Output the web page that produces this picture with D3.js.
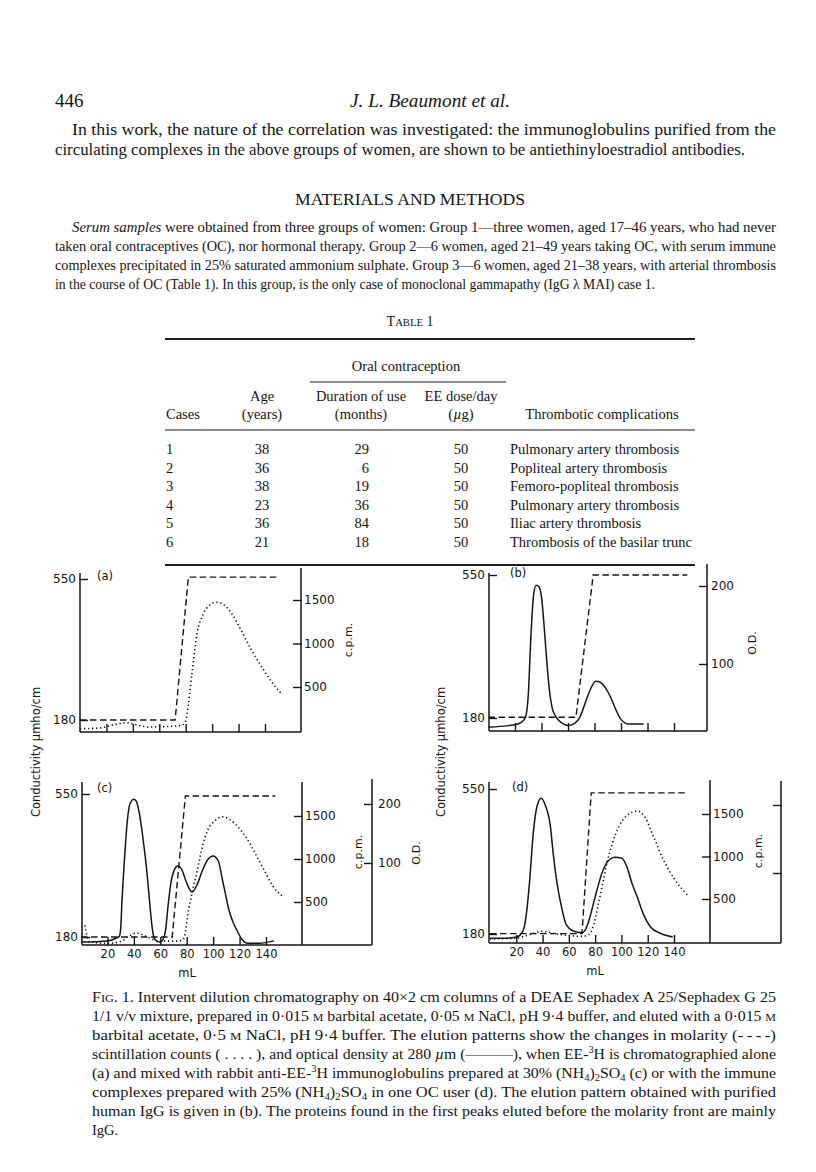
<!DOCTYPE html>
<html>
<head>
<meta charset="utf-8">
<script src="https://cdn.jsdelivr.net/npm/d3@7"></script>
<style>
  body { margin: 0; background: #fff; }
  svg text { fill: #161616; white-space: pre; }
  .serif { font-family: "Liberation Serif", "Times New Roman", serif; }
  .sans { font-family: "DejaVu Sans", sans-serif; }
</style>
</head>
<body>
<svg id="page" width="816" height="1172"></svg>
<script>
// ---------------- chart data (mL, value) ----------------
const xTicks = [20, 40, 60, 80, 100, 120, 140];
const condTicks = [180, 550];
const cpmTicks = [500, 1000, 1500];
const odTicks = [100, 200];

// (a) EE-3H alone
const aMolarity = [[0, 180], [72, 180], [82, 555], [149, 555]];
const aCpm = [[0, 20], [15, 30], [27, 70], [35, 90], [44, 60], [53, 40], [65, 45], [77, 60], [80, 110], [82, 300],
  [85, 690], [88.5, 1110], [93, 1330], [98, 1440], [103, 1475], [108, 1455], [115, 1340], [122, 1150], [130, 920],
  [138, 720], [145, 560], [153, 410]];

// (b) purified human IgG
const bMolarity = [[0, 182], [66, 182], [79, 550], [150, 550]];
const bOD = [[0, 19], [15, 21], [22, 23], [26, 27], [28, 32], [30, 60], [32, 135], [34, 188], [36, 201], [38, 199],
  [40, 186], [42, 148], [44, 103], [46, 66], [48, 44], [51, 32], [55, 25], [60, 21], [65, 24], [69, 32], [73, 50],
  [77, 68], [81, 78], [84, 77], [88, 70], [92, 58], [96, 42], [100, 29], [106, 23], [117, 23]];

// (c) with rabbit anti-EE-3H immunoglobulins
const cMolarity = [[0, 180], [69, 180], [79, 545], [147, 545]];
const cCpm = [[3, 230], [6, 40], [20, 20], [30, 40], [36, 100], [42, 140], [48, 110], [55, 60], [62, 45], [72, 45],
  [77, 60], [79, 150], [81, 370], [84, 600], [88, 870], [92, 1150], [96, 1340], [101, 1440], [107, 1490], [113, 1455],
  [119, 1370], [125, 1250], [132, 1060], [139, 860], [145, 690], [153, 560]];
const cOD = [[0, -34], [20, -32], [26, -28], [29, -24], [30, -12], [31, 35], [32, 75], [33, 110], [35, 170], [37, 200],
  [40, 208], [42, 204], [44, 186], [47, 140], [50, 82], [52, 32], [54, -12], [56, -30], [60, -34], [62, -30], [64, -14],
  [66, 30], [68, 66], [71, 90], [73, 95], [76, 90], [80, 66], [84, 51], [88, 64], [92, 88], [96, 106], [100, 112],
  [104, 103], [107, 72], [110, 40], [112, 20], [115, 0], [118, -14], [122, -30], [126, -36], [135, -36], [146, -32]];

// (d) immune complexes from one OC user
const dMolarity = [[0, 181], [70, 181], [77, 540], [150, 540]];
const dCpm = [[0, 30], [20, 40], [30, 80], [40, 120], [50, 90], [60, 70], [70, 60], [75, 80], [79, 200], [82, 410],
  [86, 700], [89, 925], [93, 1150], [98, 1350], [104, 1480], [112, 1535], [118, 1460], [124, 1250], [132, 960],
  [141, 720], [150, 550]];
const dOD = [[0, 4], [10, 4], [20, 6], [23, 9], [26, 20], [28, 45], [30, 85], [33, 160], [36, 200], [39, 210], [42, 200],
  [46, 168], [48, 130], [51, 85], [55, 45], [58, 24], [63, 15], [70, 12], [73, 18], [76, 35], [80, 65], [86, 104],
  [90, 118], [95, 123], [100, 122], [104, 110], [108, 85], [112, 65], [117, 38], [122, 21], [130, 11], [139, 6]];

// ---------------- table data ----------------
const tableHeadTop = ['Age', 'Duration of use', 'EE dose/day'];
const tableHeadBottom = ['Cases', '(years)', '(months)', '(µg)', 'Thrombotic complications'];
const tableRows = [
  ['1', '38', '29', '50', 'Pulmonary artery thrombosis'],
  ['2', '36', '6', '50', 'Popliteal artery thrombosis'],
  ['3', '38', '19', '50', 'Femoro-popliteal thrombosis'],
  ['4', '23', '36', '50', 'Pulmonary artery thrombosis'],
  ['5', '36', '84', '50', 'Iliac artery thrombosis'],
  ['6', '21', '18', '50', 'Thrombosis of the basilar trunc']
];

// ---------------- running text ----------------
const introLines = [
  ['In this work, the nature of the correlation was investigated: the immunoglobulins purified from the'],
  ['circulating complexes in the above groups of women, are shown to be antiethinyloestradiol antibodies.']
];
const methodsLines = [
  [['Serum samples', 'i'], ' were obtained from three groups of women: Group 1—three women, aged 17–46 years, who had never'],
  ['taken oral contraceptives (OC), nor hormonal therapy. Group 2—6 women, aged 21–49 years taking OC, with serum immune'],
  ['complexes precipitated in 25% saturated ammonium sulphate. Group 3—6 women, aged 21–38 years, with arterial thrombosis'],
  ['in the course of OC (Table 1). In this group, is the only case of monoclonal gammapathy (IgG λ MAI) case 1.']
];
const captionLines = [
  ['F', ['IG', 'sc'], '. 1. Intervent dilution chromatography on 40×2 cm columns of a DEAE Sephadex A 25/Sephadex G 25'],
  ['1/1 v/v mixture, prepared in 0·015 ', ['M', 'sc'], ' barbital acetate, 0·05 ', ['M', 'sc'], ' NaCl, pH 9·4 buffer, and eluted with a 0·015 ', ['M', 'sc']],
  ['barbital acetate, 0·5 ', ['M', 'sc'], ' NaCl, pH 9·4 buffer. The elution patterns show the changes in molarity (-\u2009-\u2009-\u2009-)'],
  ['scintillation counts ( . . . . ), and optical density at 280 ', ['µ', 'i'], 'm (———), when EE-', ['3', 'sup'], 'H is chromatographied alone'],
  ['(a) and mixed with rabbit anti-EE-', ['3', 'sup'], 'H immunoglobulins prepared at 30% (NH', ['4', 'sub'], ')', ['2', 'sub'], 'SO', ['4', 'sub'], ' (c) or with the immune'],
  ['complexes prepared with 25% (NH', ['4', 'sub'], ')', ['2', 'sub'], 'SO', ['4', 'sub'], ' in one OC user (d). The elution pattern obtained with purified'],
  ['human IgG is given in (b). The proteins found in the first peaks eluted before the molarity front are mainly'],
  ['IgG.']
];

const svg = d3.select('#page');
svg.append('rect').attr('width', 816).attr('height', 1172).attr('fill', '#fff');

// write one line of serif text, parts can be italic / small caps / sup / sub
function writeLine(x, y, parts, size, width, anchor) {
  const t = svg.append('text').attr('class', 'serif')
    .attr('x', x).attr('y', y).attr('font-size', size)
    .attr('text-anchor', anchor || 'start');
  let shift = 0;
  parts.forEach(p => {
    const [s, k] = Array.isArray(p) ? p : [p, ''];
    const want = k === 'sup' ? -size * 0.38 : k === 'sub' ? size * 0.22 : 0;
    const ts = t.append('tspan').text(s);
    if (want !== shift) { ts.attr('dy', want - shift); shift = want; }
    if (k === 'i') ts.attr('font-style', 'italic');
    if (k === 'sc') ts.attr('font-size', size * 0.76);
    if (k === 'sup' || k === 'sub') ts.attr('font-size', size * 0.66);
  });
  if (width) t.attr('textLength', width).attr('lengthAdjust', 'spacingAndGlyphs');
  return t;
}

// ---- page header ----
writeLine(55, 107, ['446'], 19);
writeLine(350, 107, [['J. L. Beaumont et al.', 'i']], 19, 160);

introLines.forEach((l, i) => {
  const x = i === 0 ? 72 : 55;
  writeLine(x, 135 + i * 19.5, l, 16, (i === 0 ? 776 : 745) - x);
});

writeLine(295, 205, ['MATERIALS AND METHODS'], 16, 230);

methodsLines.forEach((l, i) => {
  const x = i === 0 ? 72 : 55;
  const end = i === 3 ? 655 : 776;
  writeLine(x, 232 + i * 19, l, 14, end - x);
});

// ---- table ----
writeLine(410, 326, ['T', ['ABLE', 'sc'], ' 1'], 14, null, 'middle');
const rule = (x1, x2, y, w) => svg.append('line').attr('x1', x1).attr('x2', x2).attr('y1', y).attr('y2', y)
  .attr('stroke', '#1c1c1c').attr('stroke-width', w);
rule(165, 695, 339, 1.8);
writeLine(406, 371, ['Oral contraception'], 14.5, null, 'middle');
rule(310, 506, 382, 1);
const headX = [262, 361, 461];
tableHeadTop.forEach((h, i) => writeLine(headX[i], 401, [h], 14.5, null, 'middle'));
writeLine(166, 419, [tableHeadBottom[0]], 14.5);
writeLine(262, 419, [tableHeadBottom[1]], 14.5, null, 'middle');
writeLine(361, 419, [tableHeadBottom[2]], 14.5, null, 'middle');
writeLine(461, 419, ['(', ['µ', 'i'], 'g)'], 14.5, null, 'middle');
writeLine(602, 419, [tableHeadBottom[4]], 14.5, null, 'middle');
rule(165, 695, 430, 1.2);
tableRows.forEach((r, i) => {
  const y = 454 + i * 18.5;
  writeLine(166, y, [r[0]], 14.5);
  writeLine(262, y, [r[1]], 14.5, null, 'middle');
  writeLine(369, y, [r[2]], 14.5, null, 'end');
  writeLine(461, y, [r[3]], 14.5, null, 'middle');
  writeLine(510, y, [r[4]], 14.5);
});
rule(165, 695, 565, 1.8);

// ---- figure panels ----
const panels = [
  { tag: '(a)', mol: aMolarity, cpm: aCpm, od: null, xLabels: false,
    x: [80, 265], left: 80, top: 573, bottom: 732, cond: [720, 579], tagPos: [97, 580],
    cpmAxis: { x: 301, top: 568, range: [730.5, 600], label: [349, 640] }, odAxis: null },
  { tag: '(b)', mol: bMolarity, cpm: null, od: bOD, xLabels: false,
    x: [488.5, 674], left: 489, top: 573, bottom: 731, cond: [718, 575], tagPos: [510, 577],
    cpmAxis: null, odAxis: { x: 707, top: 564, range: [742, 586], labels: true, pad: 3, label: [753, 643] } },
  { tag: '(c)', mol: cMolarity, cpm: cCpm, od: cOD, xLabels: true, mL: [187, 977],
    x: [81, 266], left: 82, top: 782, bottom: 945, cond: [937, 794], tagPos: [97, 792],
    cpmAxis: { x: 302, top: 782, range: [945, 816], label: [359, 852] },
    odAxis: { x: 372, top: 779, range: [922, 804], labels: true, pad: 5, label: [417, 853] } },
  { tag: '(d)', mol: dMolarity, cpm: dCpm, od: dOD, xLabels: true, mL: [595, 975],
    x: [490, 674], left: 489, top: 782, bottom: 943, cond: [934, 789], tagPos: [512, 791],
    cpmAxis: { x: 710, top: 780, range: [941.5, 814], label: [759, 851] },
    odAxis: { x: 781, top: 781, range: [941, 805], labels: false } }
];

const ink = '#161616';

function fixAxis(sel, size) {
  sel.attr('font-family', null).attr('font-size', size).style('color', ink);
  sel.select('.domain').remove();
  sel.selectAll('line').attr('stroke-width', 1.4);
}

function vLabel(g, x, y, txt, size) {
  g.append('text').attr('transform', `translate(${x},${y}) rotate(-90)`)
    .attr('text-anchor', 'middle').attr('dominant-baseline', 'middle')
    .attr('font-size', size).text(txt);
}

function drawPanel(p) {
  const g = svg.append('g').attr('class', 'sans');
  const x = d3.scaleLinear().domain([0, 140]).range(p.x);
  const yCond = d3.scaleLinear().domain([180, 550]).range(p.cond);
  const yCpm = p.cpmAxis ? d3.scaleLinear().domain([0, 1500]).range(p.cpmAxis.range) : null;
  const yOD = p.odAxis ? d3.scaleLinear().domain([0, 200]).range(p.odAxis.range) : null;
  const rightEdge = d3.max([p.cpmAxis, p.odAxis].filter(Boolean), d => d.x);
  const plain = d => String(d);

  const frame = (x1, y1, x2, y2) => g.append('line').attr('x1', x1).attr('y1', y1).attr('x2', x2).attr('y2', y2)
    .attr('stroke', ink).attr('stroke-width', 1.5);
  frame(p.left, p.top, p.left, p.bottom);
  frame(p.left, p.bottom, rightEdge, p.bottom);

  g.append('g').attr('transform', `translate(${p.left},0)`)
    .call(d3.axisLeft(yCond).tickValues(condTicks).tickSizeInner(-8).tickSizeOuter(0).tickPadding(4).tickFormat(plain))
    .call(s => fixAxis(s, 12));

  g.append('g').attr('transform', `translate(0,${p.bottom})`)
    .call(d3.axisBottom(x).tickValues(xTicks).tickSizeInner(-8).tickSizeOuter(0).tickPadding(5)
      .tickFormat(p.xLabels ? plain : () => ''))
    .call(s => fixAxis(s, 11.5));

  if (p.cpmAxis) {
    const a = p.cpmAxis;
    frame(a.x, a.top, a.x, p.bottom);
    g.append('g').attr('transform', `translate(${a.x + 1},0)`)
      .call(d3.axisRight(yCpm).tickValues(cpmTicks).tickSizeInner(-9).tickSizeOuter(0).tickPadding(2).tickFormat(plain))
      .call(s => fixAxis(s, 12));
    vLabel(g, a.label[0], a.label[1], 'c.p.m.', 11);
  }
  if (p.odAxis) {
    const a = p.odAxis;
    frame(a.x, a.top, a.x, p.bottom);
    g.append('g').attr('transform', `translate(${a.x + 1},0)`)
      .call(d3.axisRight(yOD).tickValues(odTicks).tickSizeInner(-9).tickSizeOuter(0).tickPadding(a.pad || 3)
        .tickFormat(a.labels ? plain : () => ''))
      .call(s => fixAxis(s, 12));
    if (a.labels) vLabel(g, a.label[0], a.label[1], 'O.D.', 11);
  }

  // molarity: dashed, straight segments
  g.append('path').datum(p.mol)
    .attr('d', d3.line().x(d => x(d[0])).y(d => yCond(d[1])))
    .attr('fill', 'none').attr('stroke', ink).attr('stroke-width', 1.4).attr('stroke-dasharray', '6.5 3.5');

  if (p.cpm) {
    g.append('path').datum(p.cpm)
      .attr('d', d3.line().curve(d3.curveMonotoneX).x(d => x(d[0])).y(d => yCpm(d[1])))
      .attr('fill', 'none').attr('stroke', ink).attr('stroke-width', 1.6).attr('stroke-dasharray', '1.3 2.7');
  }
  if (p.od) {
    g.append('path').datum(p.od)
      .attr('d', d3.line().curve(d3.curveMonotoneX).x(d => x(d[0])).y(d => yOD(d[1])))
      .attr('fill', 'none').attr('stroke', ink).attr('stroke-width', 1.5);
  }

  g.append('text').attr('x', p.tagPos[0]).attr('y', p.tagPos[1]).attr('font-size', 11.5).text(p.tag);
  if (p.mL) g.append('text').attr('x', p.mL[0]).attr('y', p.mL[1]).attr('text-anchor', 'middle')
    .attr('font-size', 11.5).text('mL');
}

panels.forEach(drawPanel);

// shared conductivity labels
const lab = svg.append('g').attr('class', 'sans');
vLabel(lab, 36, 752, 'Conductivity µmho/cm', 11.5);
vLabel(lab, 441, 752, 'Conductivity µmho/cm', 11.5);

// ---- caption ----
captionLines.forEach((l, i) => {
  const last = i === captionLines.length - 1;
  writeLine(92, 1002 + i * 19, l, 14.5, last ? null : 776 - 92);
});
</script>
</body>
</html>
